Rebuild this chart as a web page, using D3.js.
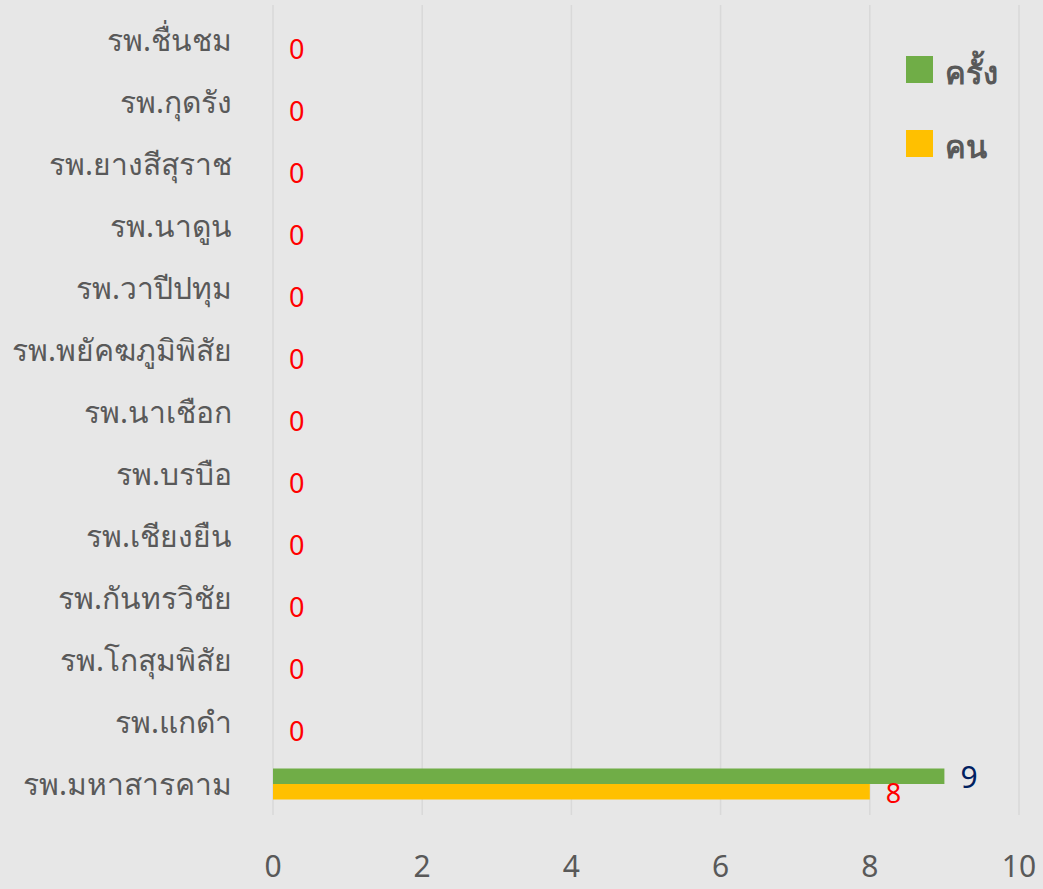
<!DOCTYPE html>
<html>
<head>
<meta charset="utf-8">
<script src="https://cdn.jsdelivr.net/npm/d3@7"></script>
<style>
  body { margin: 0; background: #e7e7e7; }
  svg { display: block; font-family: "Noto Sans", "DejaVu Sans", sans-serif; }
</style>
</head>
<body>
<div id="chart"></div>
<script>
// Data (top row first)
const hospitals = [
  "รพ.ชื่นชม", "รพ.กุดรัง", "รพ.ยางสีสุราช", "รพ.นาดูน", "รพ.วาปีปทุม",
  "รพ.พยัคฆภูมิพิสัย", "รพ.นาเชือก", "รพ.บรบือ", "รพ.เชียงยืน", "รพ.กันทรวิชัย",
  "รพ.โกสุมพิสัย", "รพ.แกดำ", "รพ.มหาสารคาม"
];
const timesValues = [0, 0, 0, 0, 0, 0, 0, 0, 0, 0, 0, 0, 9];   // ครั้ง
const peopleValues = [0, 0, 0, 0, 0, 0, 0, 0, 0, 0, 0, 0, 8];  // คน
const xTicks = [0, 2, 4, 6, 8, 10];
const seriesNames = ["ครั้ง", "คน"];

const width = 1043, height = 889;
const margin = { top: 9, right: 24, bottom: 74, left: 273 };

// Colours
const greenColor = '#70ad47';
const yellowColor = '#ffc000';
const gridColor = '#d9d9d9';
const textColor = '#595959';

const svg = d3.select("#chart").append("svg")
    .attr("width", width)
    .attr("height", height);

svg.append("rect")
    .attr("width", width)
    .attr("height", height)
    .attr("fill", "#e7e7e7");

const x = d3.scaleLinear().domain([0, 10]).range([margin.left, width - margin.right]);
const y = d3.scaleBand().domain(hospitals).range([margin.top, height - margin.bottom]).paddingInner(0.5).paddingOuter(0.25);
const sub = d3.scaleBand().domain(seriesNames).range([0, y.bandwidth()]);

// Gridlines
svg.append("g")
    .selectAll("line")
    .data(xTicks)
    .enter()
    .append("line")
    .attr("x1", d => x(d))
    .attr("x2", d => x(d))
    .attr("y1", margin.top - 4)
    .attr("y2", height - margin.bottom)
    .attr("stroke", gridColor)
    .attr("stroke-width", 1.5);

// X tick labels
svg.append("g")
    .selectAll("text")
    .data(xTicks)
    .enter()
    .append("text")
    .attr("x", d => x(d))
    .attr("y", 877)
    .attr("text-anchor", "middle")
    .style("font-size", "30px")
    .style("fill", textColor)
    .text(d => d);

// Y labels
svg.append("g")
    .selectAll("text")
    .data(hospitals)
    .enter()
    .append("text")
    .attr("x", 232)
    .attr("y", d => y(d) + y.bandwidth() / 2 + 11)
    .attr("text-anchor", "end")
    .style("font-size", "30px")
    .style("fill", textColor)
    .text(d => d);

// Bars
const rows = hospitals.map((h, i) => ({ name: h, times: timesValues[i], people: peopleValues[i] }));

svg.append("g")
    .selectAll("rect")
    .data(rows)
    .enter()
    .append("rect")
    .attr("x", x(0))
    .attr("y", d => y(d.name) + sub("ครั้ง"))
    .attr("width", d => x(d.times) - x(0))
    .attr("height", sub.bandwidth())
    .attr("fill", greenColor);

svg.append("g")
    .selectAll("rect")
    .data(rows)
    .enter()
    .append("rect")
    .attr("x", x(0))
    .attr("y", d => y(d.name) + sub("คน"))
    .attr("width", d => x(d.people) - x(0))
    .attr("height", sub.bandwidth())
    .attr("fill", yellowColor);

// Value labels
svg.append("g")
    .selectAll("text")
    .data(rows.filter(d => d.times > 0))
    .enter()
    .append("text")
    .attr("x", d => x(d.times) + 16)
    .attr("y", d => y(d.name) + sub("ครั้ง") + sub.bandwidth() / 2 + 12)
    .style("font-size", "30px")
    .style("fill", "#002060")
    .text(d => d.times);

svg.append("g")
    .selectAll("text")
    .data(rows)
    .enter()
    .append("text")
    .attr("x", d => x(d.people) + 16)
    .attr("y", d => y(d.name) + sub("คน") + sub.bandwidth() / 2 + 11)
    .style("font-size", "27px")
    .style("fill", "#ff0000")
    .text(d => d.people);

// Legend
const legend = svg.append("g");
const legendColors = [greenColor, yellowColor];
seriesNames.forEach((name, i) => {
    legend.append("rect")
        .attr("x", 906)
        .attr("y", 56 + i * 74)
        .attr("width", 27)
        .attr("height", 27)
        .attr("fill", legendColors[i]);
    legend.append("text")
        .attr("x", 945)
        .attr("y", 84 + i * 74)
        .style("font-size", "31px")
        .style("font-weight", "bold")
        .style("fill", textColor)
        .text(name);
});
</script>
</body>
</html>
